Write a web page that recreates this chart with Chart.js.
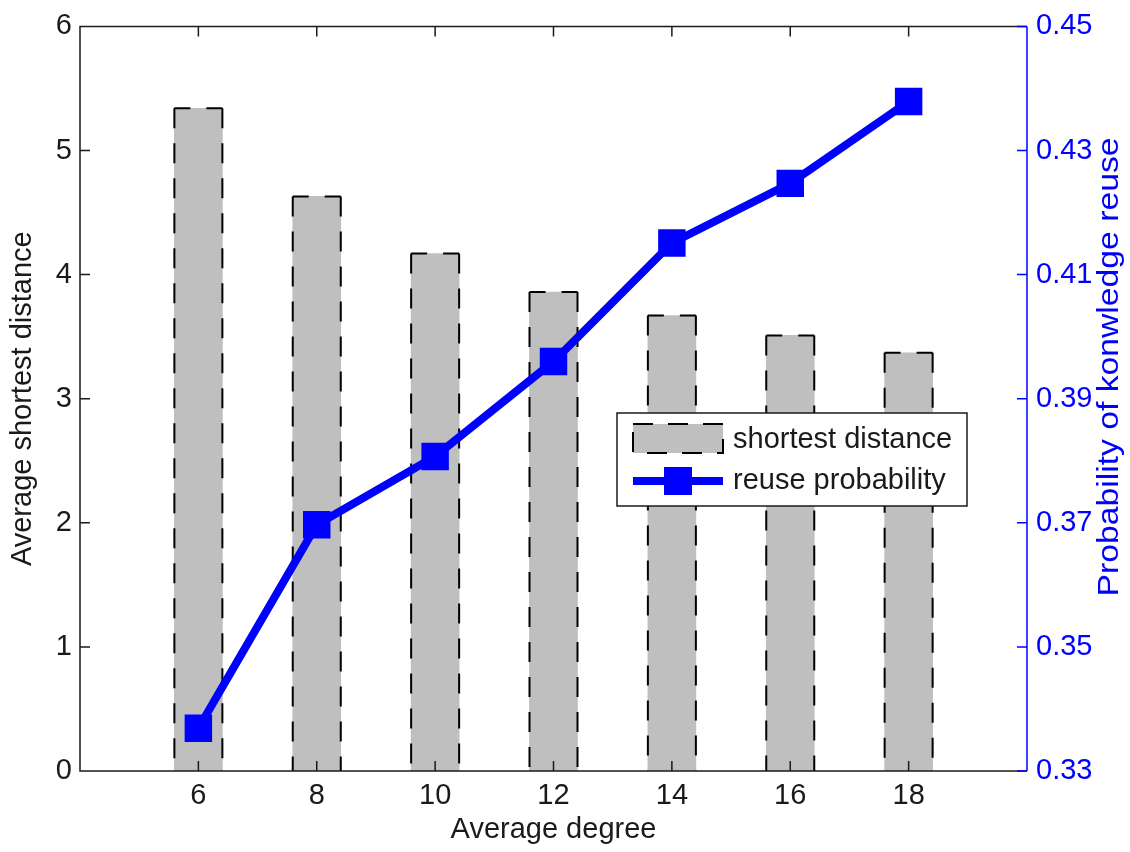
<!DOCTYPE html>
<html lang="en">
<head>
  <meta charset="UTF-8" />
  <title>Average degree: shortest distance and reuse probability</title>
  <script src="https://cdn.jsdelivr.net/npm/chart.js"></script>
  <style>
    body { margin: 0; background: white; }
    #chart { display: block; }
  </style>
</head>
<body>
  <canvas id="chart" width="1130" height="852"></canvas>
  <script>
    // values
    const averageDegree = [6, 8, 10, 12, 14, 16, 18];
    const shortestDistance = [5.34, 4.63, 4.17, 3.86, 3.67, 3.51, 3.37];
    const reuseProbability = [0.3369, 0.3697, 0.3807, 0.3960, 0.4151, 0.4247, 0.4379];

    const xTicks = [6, 8, 10, 12, 14, 16, 18];
    const leftTicks = [0, 1, 2, 3, 4, 5, 6];
    const rightTicks = [0.33, 0.35, 0.37, 0.39, 0.41, 0.43, 0.45];

    const FONT = "'Liberation Sans', Arial, sans-serif";
    const SIZE = 29;
    const INK = '#1a1a1a';
    const BLUE = '#0000ff';
    const GREY = '#bfbfbf';

    Chart.defaults.font.family = FONT;
    Chart.defaults.font.size = SIZE;

    // matlab style box, inward ticks, dashed bar edges, right title and legend
    const matlabLook = {
      id: 'matlabLook',
      afterDatasetDraw(chart, args) {
        if (args.index !== 0) return;
        const ctx = chart.ctx;
        ctx.save();
        ctx.strokeStyle = '#000';
        ctx.lineWidth = 2;
        args.meta.data.forEach(bar => {
          const { x, y, base, width } = bar.getProps(['x', 'y', 'base', 'width'], true);
          const l = x - width / 2, r = x + width / 2;
          // sides
          ctx.setLineDash([20, 15]);
          ctx.beginPath();
          ctx.moveTo(l, y); ctx.lineTo(l, base);
          ctx.moveTo(r, y); ctx.lineTo(r, base);
          ctx.stroke();
          // top
          ctx.setLineDash([16, 16]);
          ctx.beginPath();
          ctx.moveTo(l, y); ctx.lineTo(r, y);
          ctx.stroke();
        });
        ctx.restore();
      },
      afterDraw(chart) {
        const { ctx, chartArea: a, scales } = chart;
        const len = 10;
        ctx.save();

        // black part of the box and ticks
        ctx.lineWidth = 1.5;
        ctx.strokeStyle = INK;
        ctx.beginPath();
        ctx.moveTo(a.right, a.top);
        ctx.lineTo(a.left, a.top);
        ctx.lineTo(a.left, a.bottom);
        ctx.lineTo(a.right, a.bottom);
        scales.x.ticks.forEach(t => {
          const px = scales.x.getPixelForValue(t.value);
          ctx.moveTo(px, a.bottom); ctx.lineTo(px, a.bottom - len);
          ctx.moveTo(px, a.top); ctx.lineTo(px, a.top + len);
        });
        scales.y.ticks.forEach(t => {
          const py = scales.y.getPixelForValue(t.value);
          ctx.moveTo(a.left, py); ctx.lineTo(a.left + len, py);
        });
        ctx.stroke();

        // right axis in blue
        ctx.strokeStyle = BLUE;
        ctx.beginPath();
        ctx.moveTo(a.right, a.top);
        ctx.lineTo(a.right, a.bottom);
        scales.y1.ticks.forEach(t => {
          const py = scales.y1.getPixelForValue(t.value);
          ctx.moveTo(a.right, py); ctx.lineTo(a.right - len, py);
        });
        ctx.stroke();

        // right title reads bottom to top, a bit stretched in the original
        const rightTitle = 'Probability of konwledge reuse';
        ctx.save();
        ctx.font = SIZE + 'px ' + FONT;
        const stretch = 459 / ctx.measureText(rightTitle).width;
        ctx.translate(1110, 367);
        ctx.rotate(-Math.PI / 2);
        ctx.scale(stretch, 1);
        ctx.fillStyle = BLUE;
        ctx.textAlign = 'center';
        ctx.textBaseline = 'middle';
        ctx.fillText(rightTitle, 0, 0);
        ctx.restore();

        // legend box
        const lx = 617, ly = 413, lw = 350, lh = 93;
        ctx.fillStyle = 'white';
        ctx.fillRect(lx, ly, lw, lh);
        ctx.strokeStyle = INK;
        ctx.lineWidth = 1.5;
        ctx.strokeRect(lx, ly, lw, lh);

        ctx.fillStyle = GREY;
        ctx.fillRect(lx + 16, ly + 11, 90, 29);
        ctx.setLineDash([20, 15]);
        ctx.strokeStyle = '#000';
        ctx.lineWidth = 2;
        ctx.strokeRect(lx + 16, ly + 11, 90, 29);
        ctx.setLineDash([]);

        ctx.strokeStyle = BLUE;
        ctx.lineWidth = 8;
        ctx.beginPath();
        ctx.moveTo(lx + 16, ly + 68);
        ctx.lineTo(lx + 106, ly + 68);
        ctx.stroke();
        ctx.fillStyle = BLUE;
        ctx.fillRect(lx + 47, ly + 54, 28, 28);

        ctx.fillStyle = INK;
        ctx.font = SIZE + 'px ' + FONT;
        ctx.textAlign = 'left';
        ctx.textBaseline = 'middle';
        ctx.fillText('shortest distance', lx + 116, ly + 27);
        ctx.fillText('reuse probability', lx + 116, ly + 68);
        ctx.restore();
      }
    };

    new Chart(document.getElementById('chart'), {
      type: 'bar',
      data: {
        datasets: [
          {
            type: 'bar',
            label: 'shortest distance',
            data: averageDegree.map((x, i) => ({ x: x, y: shortestDistance[i] })),
            backgroundColor: GREY,
            borderWidth: 0,
            barThickness: 48,
            yAxisID: 'y',
            order: 2
          },
          {
            type: 'line',
            label: 'reuse probability',
            data: averageDegree.map((x, i) => ({ x: x, y: reuseProbability[i] })),
            borderColor: BLUE,
            borderWidth: 8,
            pointStyle: 'rect',
            pointRadius: 18,
            pointBorderWidth: 2,
            pointBackgroundColor: BLUE,
            pointBorderColor: BLUE,
            tension: 0,
            yAxisID: 'y1',
            order: 1
          }
        ]
      },
      options: {
        responsive: false,
        animation: false,
        devicePixelRatio: 1,
        layout: { padding: { top: 25, left: 0, right: 0, bottom: 0 } },
        plugins: {
          legend: { display: false },
          tooltip: { enabled: false }
        },
        scales: {
          x: {
            type: 'linear',
            min: 4,
            max: 20,
            offset: false,
            afterBuildTicks: s => { s.ticks = xTicks.map(v => ({ value: v })); },
            afterFit: s => { s.height = 81; },
            grid: { display: false, drawTicks: false },
            border: { display: false },
            ticks: { color: INK, padding: 8, maxRotation: 0 },
            title: { display: true, text: 'Average degree', color: INK, padding: { top: 0, bottom: 5 } }
          },
          y: {
            position: 'left',
            min: 0,
            max: 6,
            afterBuildTicks: s => { s.ticks = leftTicks.map(v => ({ value: v })); },
            afterFit: s => { s.width = 80; },
            grid: { display: false, drawTicks: false },
            border: { display: false },
            ticks: { color: INK, padding: 8 },
            title: { display: true, text: 'Average shortest distance', color: INK, padding: { top: 6, bottom: 0 } }
          },
          y1: {
            position: 'right',
            min: 0.33,
            max: 0.45,
            afterBuildTicks: s => { s.ticks = rightTicks.map(v => ({ value: v })); },
            afterFit: s => { s.width = 103; },
            grid: { display: false, drawTicks: false },
            border: { display: false },
            ticks: { color: BLUE, padding: 9, callback: v => v.toFixed(2) }
          }
        }
      },
      plugins: [matlabLook]
    });
  </script>
</body>
</html>
